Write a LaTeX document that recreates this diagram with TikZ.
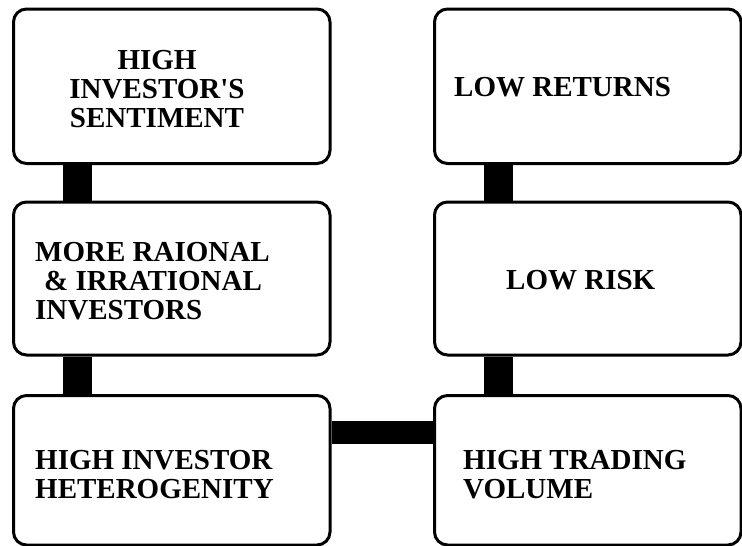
\documentclass[tikz,border=0pt]{standalone}
\usepackage{fontspec}
\setmainfont{Liberation Serif}[Ligatures=TeXOff]
\usetikzlibrary{backgrounds}
\begin{document}
\begin{tikzpicture}[x=1pt,y=-1pt,
  card/.style={rectangle, draw=black, line width=3pt, rounded corners=13pt,
               fill=white, inner sep=0pt},
  boxtext/.style={font=\fontsize{29}{29}\selectfont\bfseries, inner sep=0pt},
  vbar/.style={draw=black, line width=29pt},
  hbar/.style={draw=black, line width=23pt}]
\useasboundingbox (0,0) rectangle (742,546);

% left column
\node[card, minimum width=316.5pt, minimum height=154.5pt] (sent)   at (171.75,86.25) {};
\node[card, minimum width=316.5pt, minimum height=153pt]   (mix)    at (171.75,278.5) {};
\node[card, minimum width=316.5pt, minimum height=149.5pt] (hetero) at (171.75,470.25) {};
% right column
\node[card, minimum width=306.5pt, minimum height=154.5pt] (ret)    at (587.75,86.25) {};
\node[card, minimum width=306.5pt, minimum height=153pt]   (risk)   at (587.75,278.5) {};
\node[card, minimum width=306.5pt, minimum height=149.5pt] (volume) at (587.75,470.25) {};

% texts
\node[boxtext, align=center, anchor=north] (tsent) at (157,50)
  {HIGH\\INVESTOR'S\\SENTIMENT};
\node[boxtext, align=left, anchor=north west] (tmix) at (35,242)
  {MORE RAIONAL\\\hspace*{9pt}\& IRRATIONAL\\INVESTORS};
\node[boxtext, align=left, anchor=north west] (thetero) at (35,450)
  {HIGH INVESTOR\\HETEROGENITY};
\node[boxtext, anchor=north west] (tret) at (454,77) {LOW RETURNS};
\node[boxtext, anchor=north west] (trisk) at (506,270) {LOW RISK};
\node[boxtext, align=left, anchor=north west] (tvolume) at (463,450)
  {HIGH TRADING\\VOLUME};

% connectors
\coordinate (lx) at (77.5,0);
\coordinate (rx) at (498.5,0);
\coordinate (hy) at (0,432.5);
\begin{pgfonlayer}{background}
  \draw[vbar] (lx |- sent.south) -- (lx |- mix.north);
  \draw[vbar] (lx |- mix.south) -- (lx |- hetero.north);
  \draw[vbar] (rx |- ret.south) -- (rx |- risk.north);
  \draw[vbar] (rx |- risk.south) -- (rx |- volume.north);
  \draw[hbar] (hetero.east |- hy) -- (volume.west |- hy);
\end{pgfonlayer}
\end{tikzpicture}
\end{document}
